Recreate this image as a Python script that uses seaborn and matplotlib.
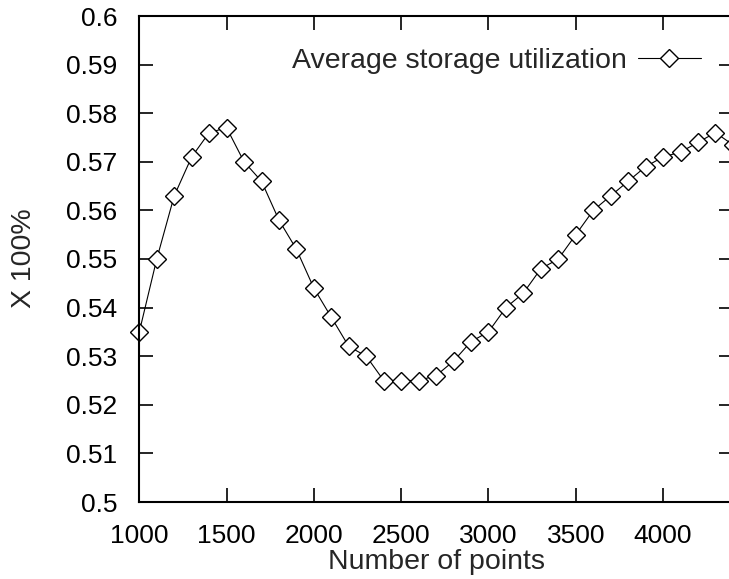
import matplotlib
matplotlib.use("Agg")
import matplotlib.pyplot as plt
import seaborn as sns
import pandas as pd

points = [1000, 1100, 1200, 1300, 1400, 1500, 1600, 1700, 1800, 1900,
          2000, 2100, 2200, 2300, 2400, 2500, 2600, 2700, 2800, 2900,
          3000, 3100, 3200, 3300, 3400, 3500, 3600, 3700, 3800, 3900,
          4000, 4100, 4200, 4300, 4400]
utilization = [0.535, 0.550, 0.563, 0.571, 0.576, 0.577, 0.570, 0.566, 0.558, 0.552,
               0.544, 0.538, 0.532, 0.530, 0.525, 0.525, 0.525, 0.526, 0.529, 0.533,
               0.535, 0.540, 0.543, 0.548, 0.550, 0.555, 0.560, 0.563, 0.566, 0.569,
               0.571, 0.572, 0.574, 0.576, 0.5735]
x_ticks = [1000, 1500, 2000, 2500, 3000, 3500, 4000]
y_ticks = [0.5, 0.51, 0.52, 0.53, 0.54, 0.55, 0.56, 0.57, 0.58, 0.59, 0.6]
series_name = "Average storage utilization"

sns.set_style("ticks")
plt.rcParams['font.family'] = ['Liberation Sans', 'DejaVu Sans']
plt.rcParams['font.size'] = 19

df = pd.DataFrame({"points": points, "util": utilization})

fig = plt.figure(figsize=(7.29, 5.79), dpi=100)
ax = fig.add_axes([139.3 / 729, 77 / 579, 593.6 / 729, 486 / 579])

sns.lineplot(data=df, x="points", y="util", ax=ax, color="black", linewidth=0.8,
             marker="D", markersize=9.5, markerfacecolor="white",
             markeredgecolor="black", markeredgewidth=1.0,
             label=series_name, clip_on=False)

ax.set_xlim(1000, 4400)
ax.set_ylim(0.5, 0.6)
ax.set_xticks(x_ticks)
ax.set_yticks(y_ticks)
ax.set_yticklabels([f"{v:g}" for v in y_ticks])
ax.set_xticklabels([str(v) for v in x_ticks])

for s in ax.spines.values():
    s.set_visible(True)
    s.set_linewidth(1.5)
    s.set_color("black")
ax.tick_params(direction="in", length=10, width=1.2, top=True, right=True,
               colors="black", labelsize=19)
ax.tick_params(axis="y", pad=16)
ax.tick_params(axis="x", pad=15.5)

ax.set_xlabel("Number of points", fontsize=20.5, labelpad=1)
ax.set_ylabel("X 100%", fontsize=20.5)
# label anchor is the right edge of the rotated text
ax.yaxis.set_label_coords(37 / 729, 1 - 258 / 579, transform=fig.transFigure)

ax.legend(loc="center right", bbox_to_anchor=(700.7 / 729, 1 - 61 / 579),
          bbox_transform=fig.transFigure, frameon=False, markerfirst=False,
          borderpad=0, borderaxespad=0, handletextpad=0.4, handlelength=2.2,
          fontsize=20.5)

fig.savefig("out.png", dpi=100)
